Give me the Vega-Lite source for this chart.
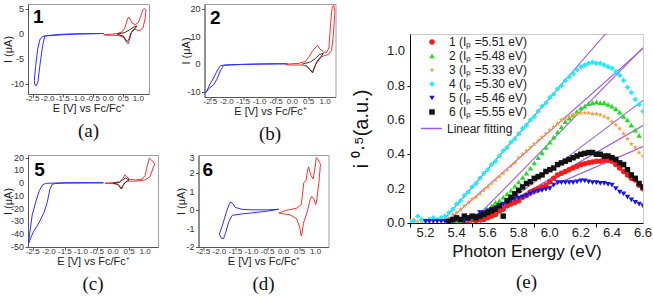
{
"$schema": "https://vega.github.io/schema/vega-lite/v6.json",
"padding": {"left": 1, "top": 3, "right": 0, "bottom": 0},
"background": "white",
"config": {
  "view": {"stroke": "#a0a0a0"},
  "axis": {"grid": false, "titleFont": "Liberation Sans", "titleFontSize": 11, "titleFontWeight": "normal", "tickSize": 3, "domainColor": "#555", "tickColor": "#555", "titleColor": "#222"},
  "title": {"font": "Liberation Serif", "fontSize": 19, "fontWeight": "normal", "color": "#111"},
  "text": {"font": "Liberation Sans", "color": "#333"}
},
"datasets": {
  "cvx": [{"v":-2.5,"l":"-2.5"},{"v":-2,"l":"-2.0"},{"v":-1.5,"l":"-1.5"},{"v":-1,"l":"-1.0"},{"v":-0.5,"l":"-0.5"},{"v":0,"l":"0.0"},{"v":0.5,"l":"0.5"},{"v":1,"l":"1.0"}],
  "ya": [{"v":-10,"l":"-10"},{"v":-5,"l":"-5"},{"v":0,"l":"0"},{"v":5,"l":"5"}],
  "yb": [{"v":-10,"l":"-10"},{"v":0,"l":"0"},{"v":10,"l":"10"},{"v":20,"l":"20"}],
  "yc": [{"v":-50,"l":"-50"},{"v":-40,"l":"-40"},{"v":-30,"l":"-30"},{"v":-20,"l":"-20"},{"v":-10,"l":"-10"},{"v":0,"l":"0"},{"v":10,"l":"10"},{"v":20,"l":"20"}],
  "yd": [{"v":-2,"l":"-2"},{"v":-1,"l":"-1"},{"v":0,"l":"0"},{"v":1,"l":"1"},{"v":2,"l":"2"}],
  "yd3": [{"v":3,"l":"3"}],
  "ex": [{"v":5.2,"l":"5.2"},{"v":5.4,"l":"5.4"},{"v":5.6,"l":"5.6"},{"v":5.8,"l":"5.8"},{"v":6.0,"l":"6.0"},{"v":6.2,"l":"6.2"},{"v":6.4,"l":"6.4"},{"v":6.6,"l":"6.6"}],
  "ey": [{"v":0,"l":"0.0"},{"v":0.2,"l":"0.2"},{"v":0.4,"l":"0.4"},{"v":0.6,"l":"0.6"},{"v":0.8,"l":"0.8"},{"v":1.0,"l":"1.0"}]
},
"spacing": 15,
"hconcat": [
 {"spacing": 8, "vconcat": [
  {"spacing": 29.5, "hconcat": [
   {"width": 121, "height": 90,
    "title": {"text": "(a)", "orient": "bottom", "offset": 9},
    "layer": [
     {"data": {"values": [
       {"E":-0.15,"I":0.1,"t":"b"},{"E":-0.5,"I":0.05,"t":"b"},{"E":-1.0,"I":0.0,"t":"b"},{"E":-1.5,"I":-0.15,"t":"b"},{"E":-2.0,"I":-0.35,"t":"b"},{"E":-2.1,"I":-0.45,"t":"b"},{"E":-2.17,"I":-2.5,"t":"b"},{"E":-2.25,"I":-6,"t":"b"},{"E":-2.32,"I":-9.5,"t":"b"},{"E":-2.37,"I":-10.3,"t":"b"},{"E":-2.42,"I":-10.2,"t":"b"},{"E":-2.44,"I":-9.3,"t":"b"},{"E":-2.4,"I":-6.5,"t":"b"},{"E":-2.33,"I":-3,"t":"b"},{"E":-2.25,"I":-1,"t":"b"},{"E":-2.15,"I":-0.45,"t":"b"},{"E":-2.0,"I":-0.3,"t":"b"},{"E":-1.5,"I":-0.05,"t":"b"},{"E":-1.0,"I":0.05,"t":"b"},{"E":-0.5,"I":0.1,"t":"b"},{"E":-0.15,"I":0.1,"t":"b"},
       {"E":-0.15,"I":-0.15,"t":"r"},{"E":0.1,"I":-0.05,"t":"r"},{"E":0.3,"I":0.1,"t":"r"},{"E":0.45,"I":0.4,"t":"r"},{"E":0.55,"I":1.2,"t":"r"},{"E":0.62,"I":2.6,"t":"r"},{"E":0.67,"I":3.4,"t":"r"},{"E":0.72,"I":3.0,"t":"r"},{"E":0.8,"I":2.1,"t":"r"},{"E":0.9,"I":1.9,"t":"r"},{"E":1.0,"I":2.3,"t":"r"},{"E":1.08,"I":3.6,"t":"r"},{"E":1.15,"I":4.9,"t":"r"},{"E":1.2,"I":5.1,"t":"r"},{"E":1.25,"I":4.8,"t":"r"},{"E":1.22,"I":3,"t":"r"},{"E":1.15,"I":1.2,"t":"r"},{"E":1.05,"I":0.7,"t":"r"},{"E":0.95,"I":0.8,"t":"r"},{"E":0.85,"I":1.0,"t":"r"},{"E":0.78,"I":0.5,"t":"r"},{"E":0.72,"I":-0.8,"t":"r"},{"E":0.66,"I":-2.0,"t":"r"},{"E":0.6,"I":-1.6,"t":"r"},{"E":0.5,"I":-0.6,"t":"r"},{"E":0.35,"I":-0.3,"t":"r"},{"E":0.1,"I":-0.25,"t":"r"},{"E":-0.15,"I":-0.2,"t":"r"},
       {"E":0.3,"I":0.0,"t":"k"},{"E":0.55,"I":0.3,"t":"k"},{"E":0.7,"I":0.8,"t":"k"},{"E":0.82,"I":1.3,"t":"k"},{"E":0.95,"I":1.6,"t":"k"},{"E":0.88,"I":1.0,"t":"k"},{"E":0.75,"I":0.2,"t":"k"},{"E":0.68,"I":-1.2,"t":"k"},{"E":0.62,"I":-1.5,"t":"k"},{"E":0.5,"I":-0.4,"t":"k"},{"E":0.3,"I":-0.05,"t":"k"}
     ]},
      "mark": {"type": "line", "strokeWidth": 1, "clip": true},
      "encoding": {
       "x": {"field": "E", "type": "quantitative", "scale": {"domain": [-2.65, 1.35], "nice": false, "zero": false}, "axis": {"values": [-2.5,-2,-1.5,-1,-0.5,0,0.5,1], "labels": false, "title": "E [V] vs Fc/Fc⁺", "titlePadding": 4.5}},
       "y": {"field": "I", "type": "quantitative", "scale": {"domain": [-12, 6], "nice": false, "zero": false}, "axis": {"values": [-10,-5,0,5], "labels": false, "title": "I (μA)", "titlePadding": 11.5}},
       "color": {"field": "t", "type": "nominal", "scale": {"domain": ["b","r","k"], "range": ["#2e2eff","#ff2e2e","#333333"]}, "legend": null},
       "order": {"value": null}
      }},
     {"data": {"name": "cvx"}, "mark": {"type": "text", "baseline": "top", "dy": 0.5, "fontSize": 8},
      "encoding": {"x": {"field": "v", "type": "quantitative"}, "y": {"datum": -12}, "text": {"field": "l"}}},
     {"data": {"name": "ya"}, "mark": {"type": "text", "align": "right", "baseline": "middle", "dx": -4, "fontSize": 9},
      "encoding": {"y": {"field": "v", "type": "quantitative"}, "x": {"datum": -2.65}, "text": {"field": "l"}}},
     {"data": {"values": [{"E":-2.31,"I":3.5,"n":"1"}]},
      "mark": {"type": "text", "fontSize": 19, "fontWeight": "bold", "color": "#000"},
      "encoding": {"x": {"field": "E", "type": "quantitative"}, "y": {"field": "I", "type": "quantitative"}, "text": {"field": "n"}}}
    ]},
   {"width": 131, "height": 93,
    "title": {"text": "(b)", "orient": "bottom", "offset": 9},
    "layer": [
     {"data": {"values": [
       {"E":-0.15,"I":0.15,"t":"b"},{"E":-0.5,"I":0.1,"t":"b"},{"E":-1.0,"I":0.05,"t":"b"},{"E":-1.5,"I":-0.1,"t":"b"},{"E":-2.0,"I":-0.3,"t":"b"},{"E":-2.1,"I":-0.5,"t":"b"},{"E":-2.2,"I":-2.5,"t":"b"},{"E":-2.3,"I":-5.5,"t":"b"},{"E":-2.4,"I":-7.5,"t":"b"},{"E":-2.55,"I":-9,"t":"b"},{"E":-2.65,"I":-10.5,"t":"b"},{"E":-2.6,"I":-9.5,"t":"b"},{"E":-2.5,"I":-7,"t":"b"},{"E":-2.4,"I":-5,"t":"b"},{"E":-2.3,"I":-2.5,"t":"b"},{"E":-2.2,"I":-0.6,"t":"b"},{"E":-2.1,"I":-0.35,"t":"b"},{"E":-1.5,"I":-0.05,"t":"b"},{"E":-1.0,"I":0.05,"t":"b"},{"E":-0.5,"I":0.15,"t":"b"},{"E":-0.15,"I":0.15,"t":"b"},
       {"E":-0.2,"I":0.0,"t":"r"},{"E":0.2,"I":0.3,"t":"r"},{"E":0.4,"I":1.0,"t":"r"},{"E":0.5,"I":2.5,"t":"r"},{"E":0.6,"I":4.5,"t":"r"},{"E":0.7,"I":6.0,"t":"r"},{"E":0.77,"I":6.8,"t":"r"},{"E":0.85,"I":5.5,"t":"r"},{"E":0.95,"I":4.5,"t":"r"},{"E":1.05,"I":4.3,"t":"r"},{"E":1.12,"I":6,"t":"r"},{"E":1.17,"I":15,"t":"r"},{"E":1.22,"I":21,"t":"r"},{"E":1.27,"I":21.5,"t":"r"},{"E":1.3,"I":19,"t":"r"},{"E":1.25,"I":10,"t":"r"},{"E":1.2,"I":5,"t":"r"},{"E":1.1,"I":3.5,"t":"r"},{"E":0.95,"I":3.0,"t":"r"},{"E":0.85,"I":2.5,"t":"r"},{"E":0.75,"I":1,"t":"r"},{"E":0.68,"I":-1,"t":"r"},{"E":0.62,"I":-2.8,"t":"r"},{"E":0.57,"I":-2.5,"t":"r"},{"E":0.45,"I":-0.8,"t":"r"},{"E":0.3,"I":-0.3,"t":"r"},{"E":0.0,"I":-0.3,"t":"r"},{"E":-0.2,"I":-0.2,"t":"r"},
       {"E":0.3,"I":0.0,"t":"k"},{"E":0.55,"I":0.8,"t":"k"},{"E":0.7,"I":2.0,"t":"k"},{"E":0.82,"I":3.5,"t":"k"},{"E":0.95,"I":4.0,"t":"k"},{"E":0.85,"I":2.2,"t":"k"},{"E":0.72,"I":0.0,"t":"k"},{"E":0.62,"I":-3.2,"t":"k"},{"E":0.55,"I":-2.0,"t":"k"},{"E":0.4,"I":-0.3,"t":"k"}
     ]},
      "mark": {"type": "line", "strokeWidth": 1, "clip": true},
      "encoding": {
       "x": {"field": "E", "type": "quantitative", "scale": {"domain": [-2.68, 1.32], "nice": false, "zero": false}, "axis": {"values": [-2.5,-2,-1.5,-1,-0.5,0,0.5,1], "labels": false, "title": "E [V] vs Fc/Fc⁺", "titlePadding": 4.5}},
       "y": {"field": "I", "type": "quantitative", "scale": {"domain": [-12, 22], "nice": false, "zero": false}, "axis": {"values": [-10,0,10,20], "labels": false, "title": "I (μA)", "titlePadding": 10}},
       "color": {"field": "t", "type": "nominal", "scale": {"domain": ["b","r","k"], "range": ["#2e2eff","#ff2e2e","#333333"]}, "legend": null},
       "order": {"value": null}
      }},
     {"data": {"name": "cvx"}, "mark": {"type": "text", "baseline": "top", "dy": 0.5, "fontSize": 8},
      "encoding": {"x": {"field": "v", "type": "quantitative"}, "y": {"datum": -12}, "text": {"field": "l"}}},
     {"data": {"name": "yb"}, "mark": {"type": "text", "align": "right", "baseline": "middle", "dx": -4, "fontSize": 9},
      "encoding": {"y": {"field": "v", "type": "quantitative"}, "x": {"datum": -2.68}, "text": {"field": "l"}}},
     {"data": {"values": [{"E":-2.35,"I":17,"n":"2"}]},
      "mark": {"type": "text", "fontSize": 19, "fontWeight": "bold", "color": "#000"},
      "encoding": {"x": {"field": "E", "type": "quantitative"}, "y": {"field": "I", "type": "quantitative"}, "text": {"field": "n"}}}
    ]}
  ]},
  {"spacing": 15.5, "hconcat": [
   {"width": 130, "height": 92,
    "title": {"text": "(c)", "orient": "bottom", "offset": 9},
    "layer": [
     {"data": {"values": [
       {"E":-0.3,"I":0.2,"t":"b"},{"E":-1.0,"I":0.1,"t":"b"},{"E":-1.5,"I":0,"t":"b"},{"E":-1.8,"I":-0.3,"t":"b"},{"E":-1.9,"I":-1,"t":"b"},{"E":-1.97,"I":-5,"t":"b"},{"E":-2.05,"I":-15,"t":"b"},{"E":-2.15,"I":-23,"t":"b"},{"E":-2.25,"I":-28,"t":"b"},{"E":-2.35,"I":-33,"t":"b"},{"E":-2.48,"I":-38,"t":"b"},{"E":-2.6,"I":-45,"t":"b"},{"E":-2.63,"I":-47,"t":"b"},{"E":-2.6,"I":-40,"t":"b"},{"E":-2.52,"I":-25,"t":"b"},{"E":-2.4,"I":-14,"t":"b"},{"E":-2.3,"I":-6,"t":"b"},{"E":-2.2,"I":-1.5,"t":"b"},{"E":-2.1,"I":-0.2,"t":"b"},{"E":-1.5,"I":0.3,"t":"b"},{"E":-1.0,"I":0.4,"t":"b"},{"E":-0.3,"I":0.3,"t":"b"},
       {"E":-0.25,"I":0.0,"t":"r"},{"E":0.0,"I":0.3,"t":"r"},{"E":0.2,"I":1.0,"t":"r"},{"E":0.3,"I":3.5,"t":"r"},{"E":0.37,"I":6.5,"t":"r"},{"E":0.42,"I":5.5,"t":"r"},{"E":0.5,"I":3.0,"t":"r"},{"E":0.7,"I":2.5,"t":"r"},{"E":0.9,"I":3,"t":"r"},{"E":1.0,"I":6,"t":"r"},{"E":1.07,"I":14,"t":"r"},{"E":1.13,"I":19.5,"t":"r"},{"E":1.2,"I":18,"t":"r"},{"E":1.3,"I":15,"t":"r"},{"E":1.25,"I":12,"t":"r"},{"E":1.15,"I":5,"t":"r"},{"E":1.0,"I":2.5,"t":"r"},{"E":0.7,"I":1.5,"t":"r"},{"E":0.45,"I":1.5,"t":"r"},{"E":0.35,"I":0,"t":"r"},{"E":0.3,"I":-3,"t":"r"},{"E":0.27,"I":-4.5,"t":"r"},{"E":0.2,"I":-2,"t":"r"},{"E":0.1,"I":-0.5,"t":"r"},{"E":-0.1,"I":-0.3,"t":"r"},{"E":-0.25,"I":-0.2,"t":"r"},
       {"E":0.0,"I":0.0,"t":"k"},{"E":0.2,"I":0.5,"t":"k"},{"E":0.3,"I":2.5,"t":"k"},{"E":0.38,"I":4,"t":"k"},{"E":0.5,"I":2.5,"t":"k"},{"E":0.4,"I":1,"t":"k"},{"E":0.3,"I":-2,"t":"k"},{"E":0.25,"I":-4.5,"t":"k"},{"E":0.15,"I":-1,"t":"k"},{"E":0.0,"I":-0.2,"t":"k"}
     ]},
      "mark": {"type": "line", "strokeWidth": 1, "clip": true},
      "encoding": {
       "x": {"field": "E", "type": "quantitative", "scale": {"domain": [-2.65, 1.4], "nice": false, "zero": false}, "axis": {"values": [-2.5,-2,-1.5,-1,-0.5,0,0.5,1], "labels": false, "title": "E [V] vs Fc/Fc⁺", "titlePadding": 4.5}},
       "y": {"field": "I", "type": "quantitative", "scale": {"domain": [-50, 22], "nice": false, "zero": false}, "axis": {"values": [-50,-40,-30,-20,-10,0,10,20], "labels": false, "title": "I (μA)", "titlePadding": 11.5}},
       "color": {"field": "t", "type": "nominal", "scale": {"domain": ["b","r","k"], "range": ["#2e2eff","#ff2e2e","#333333"]}, "legend": null},
       "order": {"value": null}
      }},
     {"data": {"name": "cvx"}, "mark": {"type": "text", "baseline": "top", "dy": 0.5, "fontSize": 8},
      "encoding": {"x": {"field": "v", "type": "quantitative"}, "y": {"datum": -50}, "text": {"field": "l"}}},
     {"data": {"name": "yc"}, "mark": {"type": "text", "align": "right", "baseline": "middle", "dx": -4, "fontSize": 9},
      "encoding": {"y": {"field": "v", "type": "quantitative"}, "x": {"datum": -2.65}, "text": {"field": "l"}}},
     {"data": {"values": [{"E":-2.29,"I":10,"n":"5"}]},
      "mark": {"type": "text", "fontSize": 19, "fontWeight": "bold", "color": "#000"},
      "encoding": {"x": {"field": "E", "type": "quantitative"}, "y": {"field": "I", "type": "quantitative"}, "text": {"field": "n"}}}
    ]},
   {"width": 130, "height": 92,
    "title": {"text": "(d)", "orient": "bottom", "offset": 9},
    "layer": [
     {"data": {"values": [
       {"E":-0.15,"I":0.05,"t":"b"},{"E":-0.5,"I":0.02,"t":"b"},{"E":-1.0,"I":0.02,"t":"b"},{"E":-1.3,"I":0.05,"t":"b"},{"E":-1.5,"I":0.15,"t":"b"},{"E":-1.58,"I":0.35,"t":"b"},{"E":-1.65,"I":0.45,"t":"b"},{"E":-1.7,"I":0.3,"t":"b"},{"E":-1.8,"I":-0.2,"t":"b"},{"E":-1.9,"I":-0.8,"t":"b"},{"E":-2.0,"I":-1.3,"t":"b"},{"E":-1.95,"I":-1.5,"t":"b"},{"E":-1.87,"I":-1.55,"t":"b"},{"E":-1.8,"I":-1.2,"t":"b"},{"E":-1.7,"I":-0.6,"t":"b"},{"E":-1.6,"I":-0.28,"t":"b"},{"E":-1.3,"I":-0.2,"t":"b"},{"E":-1.0,"I":-0.15,"t":"b"},{"E":-0.5,"I":-0.05,"t":"b"},{"E":-0.15,"I":0.05,"t":"b"},
       {"E":-0.15,"I":-0.15,"t":"r"},{"E":0.1,"I":0.0,"t":"r"},{"E":0.4,"I":0.1,"t":"r"},{"E":0.55,"I":0.3,"t":"r"},{"E":0.6,"I":1.0,"t":"r"},{"E":0.63,"I":1.5,"t":"r"},{"E":0.7,"I":1.6,"t":"r"},{"E":0.75,"I":2.2,"t":"r"},{"E":0.78,"I":2.35,"t":"r"},{"E":0.85,"I":1.9,"t":"r"},{"E":0.92,"I":1.7,"t":"r"},{"E":0.97,"I":2.2,"t":"r"},{"E":1.02,"I":2.85,"t":"r"},{"E":1.06,"I":2.8,"t":"r"},{"E":1.12,"I":2.6,"t":"r"},{"E":1.15,"I":2.5,"t":"r"},{"E":1.1,"I":1.5,"t":"r"},{"E":1.03,"I":0.5,"t":"r"},{"E":1.0,"I":0.3,"t":"r"},{"E":0.95,"I":0.6,"t":"r"},{"E":0.88,"I":0.75,"t":"r"},{"E":0.83,"I":0.6,"t":"r"},{"E":0.75,"I":0.0,"t":"r"},{"E":0.7,"I":-0.3,"t":"r"},{"E":0.62,"I":-0.7,"t":"r"},{"E":0.57,"I":-1.3,"t":"r"},{"E":0.55,"I":-1.4,"t":"r"},{"E":0.5,"I":-0.9,"t":"r"},{"E":0.4,"I":-0.45,"t":"r"},{"E":0.2,"I":-0.25,"t":"r"},{"E":0.0,"I":-0.2,"t":"r"},{"E":-0.15,"I":-0.15,"t":"r"}
     ]},
      "mark": {"type": "line", "strokeWidth": 1, "clip": true},
      "encoding": {
       "x": {"field": "E", "type": "quantitative", "scale": {"domain": [-2.65, 1.4], "nice": false, "zero": false}, "axis": {"values": [-2.5,-2,-1.5,-1,-0.5,0,0.5,1], "labels": false, "title": "E [V] vs Fc/Fc⁺", "titlePadding": 4.5}},
       "y": {"field": "I", "type": "quantitative", "scale": {"domain": [-2, 3], "nice": false, "zero": false}, "axis": {"values": [-2,-1,0,1,2,3], "labels": false, "title": "I (μA)", "titlePadding": 9}},
       "color": {"field": "t", "type": "nominal", "scale": {"domain": ["b","r","k"], "range": ["#2e2eff","#ff2e2e","#333333"]}, "legend": null},
       "order": {"value": null}
      }},
     {"data": {"name": "cvx"}, "mark": {"type": "text", "baseline": "top", "dy": 0.5, "fontSize": 8},
      "encoding": {"x": {"field": "v", "type": "quantitative"}, "y": {"datum": -2}, "text": {"field": "l"}}},
     {"data": {"name": "yd"}, "mark": {"type": "text", "align": "right", "baseline": "middle", "dx": -4, "fontSize": 9},
      "encoding": {"y": {"field": "v", "type": "quantitative"}, "x": {"datum": -2.65}, "text": {"field": "l"}}},
     {"data": {"name": "yd3"}, "mark": {"type": "text", "align": "right", "baseline": "middle", "dx": -4, "dy": 2.5, "fontSize": 9},
      "encoding": {"y": {"field": "v", "type": "quantitative"}, "x": {"datum": -2.65}, "text": {"field": "l"}}},
     {"data": {"values": [{"E":-2.36,"I":2.2,"n":"6"}]},
      "mark": {"type": "text", "fontSize": 19, "fontWeight": "bold", "color": "#000"},
      "encoding": {"x": {"field": "E", "type": "quantitative"}, "y": {"field": "I", "type": "quantitative"}, "text": {"field": "n"}}}
    ]}
  ]}
 ]},
 {"spacing": 0, "vconcat": [
  {"width": 200, "height": 29, "view": {"stroke": null, "fill": "#ffffff"},
   "data": {"values": [{"n": ""}]},
   "mark": {"type": "text"},
   "encoding": {"text": {"field": "n"}}},
  {"width": 233, "height": 189,
   "view": {"stroke": "#cccccc"},
   "title": {"text": "(e)", "orient": "bottom", "offset": 14},
   "layer": [
    {"data": {"values": [
      {"s":"1","x":5.51,"y":0},{"s":"1","x":6.6,"y":0.567},
      {"s":"2","x":5.49,"y":0},{"s":"2","x":6.6,"y":1.02},
      {"s":"3","x":5.33,"y":0},{"s":"3","x":6.6,"y":1.016},
      {"s":"4","x":5.30,"y":0},{"s":"4","x":6.6,"y":1.352},
      {"s":"5","x":5.46,"y":0},{"s":"5","x":6.6,"y":0.445},
      {"s":"6","x":5.55,"y":0},{"s":"6","x":6.6,"y":0.714}
    ]},
     "mark": {"type": "line", "strokeWidth": 1.1, "clip": true},
     "encoding": {
      "x": {"field": "x", "type": "quantitative"},
      "y": {"field": "y", "type": "quantitative"},
      "detail": {"field": "s"},
      "stroke": {"datum": "Linear fitting", "type": "nominal", "scale": {"domain": ["Linear fitting"], "range": ["#9b5de8"]},
        "legend": {"title": null, "orient": "none", "legendX": 392, "legendY": 113, "symbolType": "stroke", "symbolSize": 441, "symbolStrokeWidth": 1.5, "labelOffset": 4, "labelFont": "Liberation Sans", "labelFontSize": 12, "labelColor": "#222", "padding": 0}}
     }},
    {"data": {"values": [
      {"s":"1","x":5.400,"y":0.01},{"s":"1","x":5.425,"y":0.02},{"s":"1","x":5.450,"y":0.01},{"s":"1","x":5.475,"y":0.01},{"s":"1","x":5.500,"y":0.02},{"s":"1","x":5.525,"y":0.01},{"s":"1","x":5.550,"y":0.02},{"s":"1","x":5.575,"y":0.02},{"s":"1","x":5.600,"y":0.03},{"s":"1","x":5.625,"y":0.04},{"s":"1","x":5.650,"y":0.05},{"s":"1","x":5.675,"y":0.07},{"s":"1","x":5.700,"y":0.08},{"s":"1","x":5.725,"y":0.10},{"s":"1","x":5.750,"y":0.11},{"s":"1","x":5.775,"y":0.12},{"s":"1","x":5.800,"y":0.13},{"s":"1","x":5.825,"y":0.15},{"s":"1","x":5.850,"y":0.16},{"s":"1","x":5.875,"y":0.18},{"s":"1","x":5.900,"y":0.19},{"s":"1","x":5.925,"y":0.20},{"s":"1","x":5.950,"y":0.21},{"s":"1","x":5.975,"y":0.22},{"s":"1","x":6.000,"y":0.24},{"s":"1","x":6.025,"y":0.26},{"s":"1","x":6.050,"y":0.28},{"s":"1","x":6.075,"y":0.29},{"s":"1","x":6.100,"y":0.30},{"s":"1","x":6.125,"y":0.31},{"s":"1","x":6.150,"y":0.32},{"s":"1","x":6.175,"y":0.33},{"s":"1","x":6.200,"y":0.34},{"s":"1","x":6.225,"y":0.345},{"s":"1","x":6.250,"y":0.35},{"s":"1","x":6.275,"y":0.355},{"s":"1","x":6.300,"y":0.36},{"s":"1","x":6.325,"y":0.36},{"s":"1","x":6.350,"y":0.365},{"s":"1","x":6.375,"y":0.365},{"s":"1","x":6.400,"y":0.36},{"s":"1","x":6.425,"y":0.34},{"s":"1","x":6.450,"y":0.32},{"s":"1","x":6.475,"y":0.30},{"s":"1","x":6.500,"y":0.28},{"s":"1","x":6.525,"y":0.26},{"s":"1","x":6.550,"y":0.25},{"s":"1","x":6.575,"y":0.22},{"s":"1","x":6.600,"y":0.20},
      {"s":"2","x":5.400,"y":0.01},{"s":"2","x":5.425,"y":0.01},{"s":"2","x":5.450,"y":0.02},{"s":"2","x":5.475,"y":0.02},{"s":"2","x":5.500,"y":0.03},{"s":"2","x":5.525,"y":0.04},{"s":"2","x":5.550,"y":0.05},{"s":"2","x":5.575,"y":0.06},{"s":"2","x":5.600,"y":0.08},{"s":"2","x":5.625,"y":0.10},{"s":"2","x":5.650,"y":0.12},{"s":"2","x":5.675,"y":0.13},{"s":"2","x":5.700,"y":0.15},{"s":"2","x":5.725,"y":0.17},{"s":"2","x":5.750,"y":0.19},{"s":"2","x":5.775,"y":0.215},{"s":"2","x":5.800,"y":0.24},{"s":"2","x":5.825,"y":0.265},{"s":"2","x":5.850,"y":0.29},{"s":"2","x":5.875,"y":0.32},{"s":"2","x":5.900,"y":0.35},{"s":"2","x":5.925,"y":0.38},{"s":"2","x":5.950,"y":0.41},{"s":"2","x":5.975,"y":0.44},{"s":"2","x":6.000,"y":0.47},{"s":"2","x":6.025,"y":0.50},{"s":"2","x":6.050,"y":0.53},{"s":"2","x":6.075,"y":0.56},{"s":"2","x":6.100,"y":0.59},{"s":"2","x":6.125,"y":0.61},{"s":"2","x":6.150,"y":0.63},{"s":"2","x":6.175,"y":0.65},{"s":"2","x":6.200,"y":0.67},{"s":"2","x":6.225,"y":0.68},{"s":"2","x":6.250,"y":0.695},{"s":"2","x":6.275,"y":0.70},{"s":"2","x":6.300,"y":0.705},{"s":"2","x":6.325,"y":0.70},{"s":"2","x":6.350,"y":0.70},{"s":"2","x":6.375,"y":0.69},{"s":"2","x":6.400,"y":0.68},{"s":"2","x":6.425,"y":0.665},{"s":"2","x":6.450,"y":0.645},{"s":"2","x":6.475,"y":0.62},{"s":"2","x":6.500,"y":0.60},{"s":"2","x":6.525,"y":0.57},{"s":"2","x":6.550,"y":0.54},{"s":"2","x":6.575,"y":0.51},
      {"s":"3","x":5.100,"y":0.01},{"s":"3","x":5.125,"y":0.02},{"s":"3","x":5.150,"y":0.01},{"s":"3","x":5.175,"y":0.01},{"s":"3","x":5.200,"y":0.01},{"s":"3","x":5.225,"y":0.01},{"s":"3","x":5.250,"y":0.01},{"s":"3","x":5.275,"y":0.01},{"s":"3","x":5.300,"y":0.02},{"s":"3","x":5.325,"y":0.02},{"s":"3","x":5.350,"y":0.03},{"s":"3","x":5.375,"y":0.05},{"s":"3","x":5.400,"y":0.06},{"s":"3","x":5.425,"y":0.08},{"s":"3","x":5.450,"y":0.10},{"s":"3","x":5.475,"y":0.12},{"s":"3","x":5.500,"y":0.14},{"s":"3","x":5.525,"y":0.15},{"s":"3","x":5.550,"y":0.17},{"s":"3","x":5.575,"y":0.19},{"s":"3","x":5.600,"y":0.21},{"s":"3","x":5.625,"y":0.23},{"s":"3","x":5.650,"y":0.25},{"s":"3","x":5.675,"y":0.27},{"s":"3","x":5.700,"y":0.29},{"s":"3","x":5.725,"y":0.31},{"s":"3","x":5.750,"y":0.33},{"s":"3","x":5.775,"y":0.35},{"s":"3","x":5.800,"y":0.38},{"s":"3","x":5.825,"y":0.40},{"s":"3","x":5.850,"y":0.42},{"s":"3","x":5.875,"y":0.44},{"s":"3","x":5.900,"y":0.46},{"s":"3","x":5.925,"y":0.48},{"s":"3","x":5.950,"y":0.50},{"s":"3","x":5.975,"y":0.52},{"s":"3","x":6.000,"y":0.54},{"s":"3","x":6.025,"y":0.56},{"s":"3","x":6.050,"y":0.58},{"s":"3","x":6.075,"y":0.60},{"s":"3","x":6.100,"y":0.61},{"s":"3","x":6.125,"y":0.62},{"s":"3","x":6.150,"y":0.63},{"s":"3","x":6.175,"y":0.635},{"s":"3","x":6.200,"y":0.64},{"s":"3","x":6.225,"y":0.64},{"s":"3","x":6.250,"y":0.64},{"s":"3","x":6.275,"y":0.635},{"s":"3","x":6.300,"y":0.635},{"s":"3","x":6.325,"y":0.63},{"s":"3","x":6.350,"y":0.62},{"s":"3","x":6.375,"y":0.61},{"s":"3","x":6.400,"y":0.59},{"s":"3","x":6.425,"y":0.57},{"s":"3","x":6.450,"y":0.55},{"s":"3","x":6.475,"y":0.52},{"s":"3","x":6.500,"y":0.49},{"s":"3","x":6.525,"y":0.46},{"s":"3","x":6.550,"y":0.44},{"s":"3","x":6.575,"y":0.41},{"s":"3","x":6.600,"y":0.39},
      {"s":"4","x":5.100,"y":0.01},{"s":"4","x":5.125,"y":0.01},{"s":"4","x":5.150,"y":0.04},{"s":"4","x":5.175,"y":0.02},{"s":"4","x":5.200,"y":0.01},{"s":"4","x":5.225,"y":0.02},{"s":"4","x":5.250,"y":0.03},{"s":"4","x":5.275,"y":0.02},{"s":"4","x":5.300,"y":0.03},{"s":"4","x":5.325,"y":0.04},{"s":"4","x":5.350,"y":0.06},{"s":"4","x":5.375,"y":0.08},{"s":"4","x":5.400,"y":0.11},{"s":"4","x":5.425,"y":0.13},{"s":"4","x":5.450,"y":0.16},{"s":"4","x":5.475,"y":0.18},{"s":"4","x":5.500,"y":0.21},{"s":"4","x":5.525,"y":0.23},{"s":"4","x":5.550,"y":0.26},{"s":"4","x":5.575,"y":0.29},{"s":"4","x":5.600,"y":0.31},{"s":"4","x":5.625,"y":0.34},{"s":"4","x":5.650,"y":0.36},{"s":"4","x":5.675,"y":0.39},{"s":"4","x":5.700,"y":0.42},{"s":"4","x":5.725,"y":0.44},{"s":"4","x":5.750,"y":0.47},{"s":"4","x":5.775,"y":0.49},{"s":"4","x":5.800,"y":0.52},{"s":"4","x":5.825,"y":0.55},{"s":"4","x":5.850,"y":0.57},{"s":"4","x":5.875,"y":0.60},{"s":"4","x":5.900,"y":0.62},{"s":"4","x":5.925,"y":0.65},{"s":"4","x":5.950,"y":0.68},{"s":"4","x":5.975,"y":0.70},{"s":"4","x":6.000,"y":0.73},{"s":"4","x":6.025,"y":0.75},{"s":"4","x":6.050,"y":0.78},{"s":"4","x":6.075,"y":0.80},{"s":"4","x":6.100,"y":0.83},{"s":"4","x":6.125,"y":0.85},{"s":"4","x":6.150,"y":0.87},{"s":"4","x":6.175,"y":0.89},{"s":"4","x":6.200,"y":0.91},{"s":"4","x":6.225,"y":0.92},{"s":"4","x":6.250,"y":0.93},{"s":"4","x":6.275,"y":0.935},{"s":"4","x":6.300,"y":0.93},{"s":"4","x":6.325,"y":0.93},{"s":"4","x":6.350,"y":0.92},{"s":"4","x":6.375,"y":0.91},{"s":"4","x":6.400,"y":0.90},{"s":"4","x":6.425,"y":0.88},{"s":"4","x":6.450,"y":0.86},{"s":"4","x":6.475,"y":0.83},{"s":"4","x":6.500,"y":0.79},{"s":"4","x":6.525,"y":0.76},{"s":"4","x":6.550,"y":0.72},{"s":"4","x":6.575,"y":0.69},{"s":"4","x":6.600,"y":0.65},
      {"s":"5","x":5.200,"y":0.01},{"s":"5","x":5.225,"y":0.01},{"s":"5","x":5.250,"y":0.01},{"s":"5","x":5.275,"y":0.01},{"s":"5","x":5.300,"y":0.01},{"s":"5","x":5.325,"y":0.01},{"s":"5","x":5.350,"y":0.01},{"s":"5","x":5.375,"y":0.01},{"s":"5","x":5.400,"y":0.02},{"s":"5","x":5.425,"y":0.02},{"s":"5","x":5.450,"y":0.01},{"s":"5","x":5.475,"y":0.02},{"s":"5","x":5.500,"y":0.03},{"s":"5","x":5.525,"y":0.04},{"s":"5","x":5.550,"y":0.06},{"s":"5","x":5.575,"y":0.06},{"s":"5","x":5.600,"y":0.07},{"s":"5","x":5.625,"y":0.08},{"s":"5","x":5.650,"y":0.09},{"s":"5","x":5.675,"y":0.10},{"s":"5","x":5.700,"y":0.11},{"s":"5","x":5.725,"y":0.12},{"s":"5","x":5.750,"y":0.13},{"s":"5","x":5.775,"y":0.14},{"s":"5","x":5.800,"y":0.145},{"s":"5","x":5.825,"y":0.15},{"s":"5","x":5.850,"y":0.16},{"s":"5","x":5.875,"y":0.17},{"s":"5","x":5.900,"y":0.18},{"s":"5","x":5.925,"y":0.185},{"s":"5","x":5.950,"y":0.19},{"s":"5","x":5.975,"y":0.195},{"s":"5","x":6.000,"y":0.20},{"s":"5","x":6.025,"y":0.22},{"s":"5","x":6.050,"y":0.235},{"s":"5","x":6.075,"y":0.235},{"s":"5","x":6.100,"y":0.235},{"s":"5","x":6.125,"y":0.235},{"s":"5","x":6.150,"y":0.235},{"s":"5","x":6.175,"y":0.24},{"s":"5","x":6.200,"y":0.245},{"s":"5","x":6.225,"y":0.245},{"s":"5","x":6.250,"y":0.24},{"s":"5","x":6.275,"y":0.235},{"s":"5","x":6.300,"y":0.235},{"s":"5","x":6.325,"y":0.23},{"s":"5","x":6.350,"y":0.23},{"s":"5","x":6.375,"y":0.225},{"s":"5","x":6.400,"y":0.22},{"s":"5","x":6.425,"y":0.20},{"s":"5","x":6.450,"y":0.18},{"s":"5","x":6.475,"y":0.17},{"s":"5","x":6.500,"y":0.15},{"s":"5","x":6.525,"y":0.135},{"s":"5","x":6.550,"y":0.12},{"s":"5","x":6.575,"y":0.11},{"s":"5","x":6.600,"y":0.10},
      {"s":"6","x":5.350,"y":0.01},{"s":"6","x":5.375,"y":0.02},{"s":"6","x":5.400,"y":0.03},{"s":"6","x":5.425,"y":0.02},{"s":"6","x":5.450,"y":0.04},{"s":"6","x":5.475,"y":0.03},{"s":"6","x":5.500,"y":0.04},{"s":"6","x":5.525,"y":0.03},{"s":"6","x":5.550,"y":0.04},{"s":"6","x":5.575,"y":0.05},{"s":"6","x":5.600,"y":0.06},{"s":"6","x":5.625,"y":0.07},{"s":"6","x":5.650,"y":0.08},{"s":"6","x":5.675,"y":0.10},{"s":"6","x":5.700,"y":0.04},{"s":"6","x":5.725,"y":0.13},{"s":"6","x":5.750,"y":0.15},{"s":"6","x":5.775,"y":0.17},{"s":"6","x":5.800,"y":0.19},{"s":"6","x":5.825,"y":0.21},{"s":"6","x":5.850,"y":0.23},{"s":"6","x":5.875,"y":0.24},{"s":"6","x":5.900,"y":0.26},{"s":"6","x":5.925,"y":0.27},{"s":"6","x":5.950,"y":0.28},{"s":"6","x":5.975,"y":0.30},{"s":"6","x":6.000,"y":0.31},{"s":"6","x":6.025,"y":0.32},{"s":"6","x":6.050,"y":0.34},{"s":"6","x":6.075,"y":0.35},{"s":"6","x":6.100,"y":0.36},{"s":"6","x":6.125,"y":0.37},{"s":"6","x":6.150,"y":0.38},{"s":"6","x":6.175,"y":0.39},{"s":"6","x":6.200,"y":0.40},{"s":"6","x":6.225,"y":0.405},{"s":"6","x":6.250,"y":0.41},{"s":"6","x":6.275,"y":0.41},{"s":"6","x":6.300,"y":0.40},{"s":"6","x":6.325,"y":0.40},{"s":"6","x":6.350,"y":0.39},{"s":"6","x":6.375,"y":0.39},{"s":"6","x":6.400,"y":0.38},{"s":"6","x":6.425,"y":0.37},{"s":"6","x":6.450,"y":0.35},{"s":"6","x":6.475,"y":0.34},{"s":"6","x":6.500,"y":0.31},{"s":"6","x":6.525,"y":0.28},{"s":"6","x":6.550,"y":0.26},{"s":"6","x":6.575,"y":0.23},{"s":"6","x":6.600,"y":0.21}
    ]},
     "mark": {"type": "point", "filled": true, "opacity": 1, "size": 30, "clip": true},
     "encoding": {
      "x": {"field": "x", "type": "quantitative", "scale": {"domain": [5.1, 6.6], "nice": false, "zero": false},
        "axis": {"values": [5.1,5.2,5.3,5.4,5.5,5.6,5.7,5.8,5.9,6.0,6.1,6.2,6.3,6.4,6.5,6.6], "labels": false, "title": "Photon Energy (eV)", "titleFontSize": 17, "tickSize": 4, "titlePadding": 15.5, "domainColor": "#000", "tickColor": "#000", "titleColor": "#111"}},
      "y": {"field": "y", "type": "quantitative", "scale": {"domain": [0, 1.1], "nice": false, "zero": false},
        "axis": {"values": [0,0.1,0.2,0.3,0.4,0.5,0.6,0.7,0.8,0.9,1.0], "labels": false, "title": "i ⁰·⁵(a.u.)", "titleFontSize": 20, "tickSize": 3, "titlePadding": 35, "domainColor": "#000", "tickColor": "#000", "titleColor": "#111"}},
      "fill": {"field": "s", "type": "nominal", "scale": {"domain": ["1","2","3","4","5","6"], "range": ["#ff1a1a","#1ee01e","#ff9a33","#19eeff","#1414e6","#111111"]},
        "legend": {"title": null, "orient": "none", "legendX": 398, "legendY": 32, "labelOffset": 11, "labelFont": "Liberation Sans", "labelFontSize": 12, "labelColor": "#222", "symbolSize": 30, "rowPadding": 2, "padding": 0, "labelExpr": "datum.label=='1'?'1 (Iₚ =5.51 eV)':datum.label=='2'?'2 (Iₚ =5.48 eV)':datum.label=='3'?'3 (Iₚ =5.33 eV)':datum.label=='4'?'4 (Iₚ =5.30 eV)':datum.label=='5'?'5 (Iₚ =5.46 eV)':'6 (Iₚ =5.55 eV)'"}},
      "shape": {"field": "s", "type": "nominal", "scale": {"domain": ["1","2","3","4","5","6"], "range": ["circle","triangle-up","M0,-1L0.2245,-0.309L0.951,-0.309L0.363,0.118L0.588,0.809L0,0.382L-0.588,0.809L-0.363,0.118L-0.951,-0.309L-0.2245,-0.309Z","diamond","triangle-down","square"]},
        "legend": {"title": null, "orient": "none", "legendX": 398, "legendY": 32, "labelOffset": 11, "labelFont": "Liberation Sans", "labelFontSize": 12, "labelColor": "#222", "symbolSize": 30, "rowPadding": 2, "padding": 0, "labelExpr": "datum.label=='1'?'1 (Iₚ =5.51 eV)':datum.label=='2'?'2 (Iₚ =5.48 eV)':datum.label=='3'?'3 (Iₚ =5.33 eV)':datum.label=='4'?'4 (Iₚ =5.30 eV)':datum.label=='5'?'5 (Iₚ =5.46 eV)':'6 (Iₚ =5.55 eV)'"}}
     }},
    {"data": {"name": "ex"}, "mark": {"type": "text", "baseline": "top", "dy": 4, "fontSize": 13, "color": "#222"},
     "encoding": {"x": {"field": "v", "type": "quantitative"}, "y": {"datum": 0}, "text": {"field": "l"}}},
    {"data": {"name": "ey"}, "mark": {"type": "text", "align": "right", "baseline": "middle", "dx": -5, "fontSize": 13, "color": "#222"},
     "encoding": {"y": {"field": "v", "type": "quantitative"}, "x": {"datum": 5.1}, "text": {"field": "l"}}}
   ]}
 ]}
]
}
